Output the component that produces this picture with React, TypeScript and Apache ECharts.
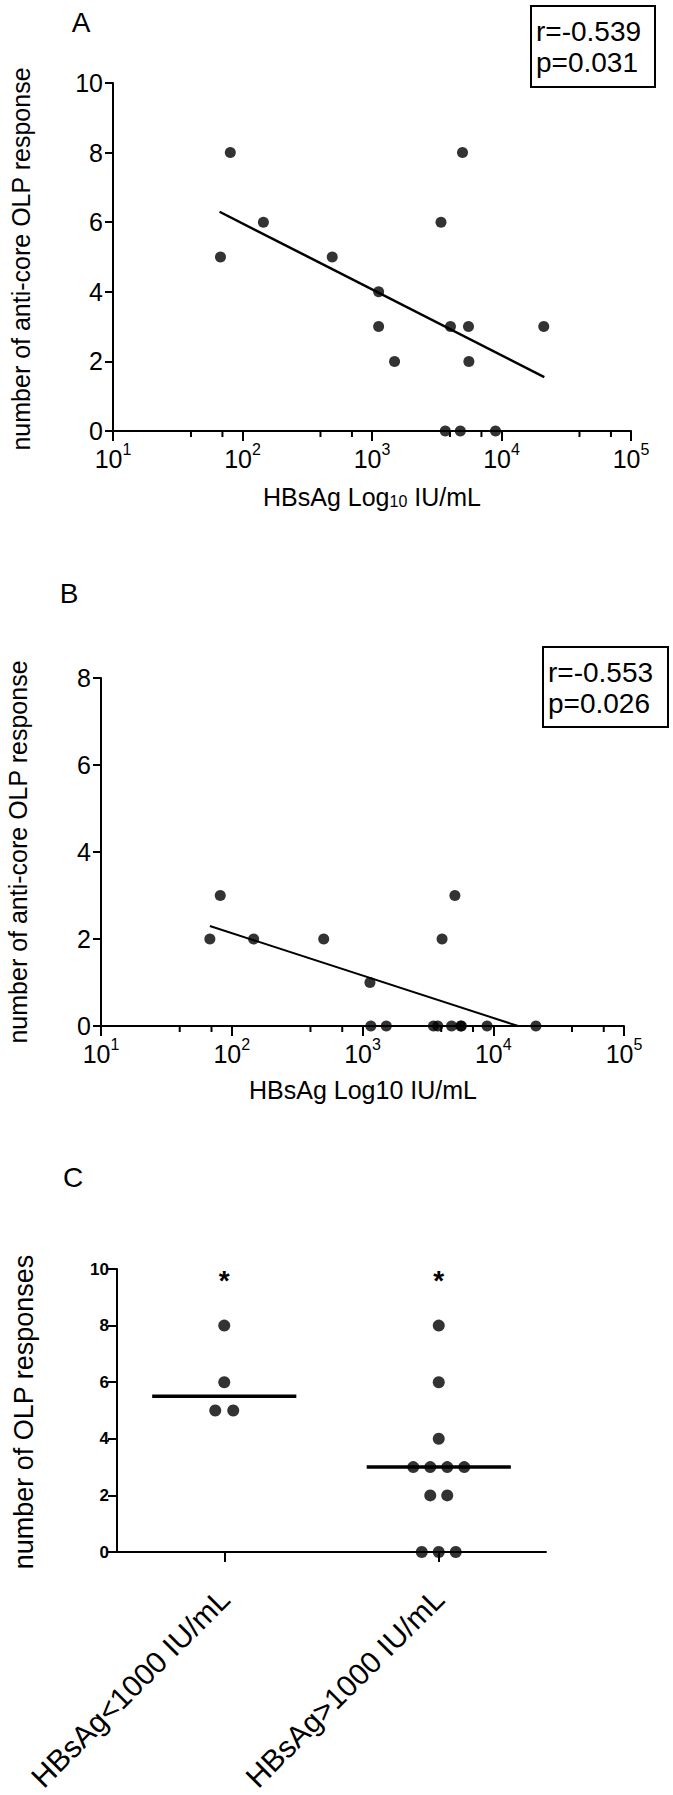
import React, { useEffect, useRef } from 'react';
import * as echarts from 'echarts';

// ---------- Data ----------
const logTickValues = [10, 100, 1000, 10000, 100000];
const minorTickValues = [40, 70, 400, 700, 4000, 7000, 40000, 70000];

// Panel A
const hbsAgA = [67.6, 80.5, 145, 493, 1125, 1125, 1493, 3410, 3680, 4035, 4810, 5000, 5560, 5600, 8990, 21200];
const olpA = [5, 8, 6, 5, 4, 3, 2, 6, 0, 3, 0, 8, 3, 2, 0, 3];
const fitA = [[66.5, 6.3], [21400, 1.55]];
const statsA = ['r=-0.539', 'p=0.031'];

// Panel B
const hbsAgB = [68, 81.7, 147, 505, 1140, 1158, 1520, 3490, 3766, 4060, 4800, 5090, 5650, 5700, 8970, 21200];
const olpB = [2, 3, 2, 2, 1, 0, 0, 0, 0, 2, 0, 3, 0, 0, 0, 0];
const fitB = [[68, 2.3], [15500, 0]];
const statsB = ['r=-0.553', 'p=0.026'];

// Panel C
const groupsC = ['HBsAg<1000 IU/mL', 'HBsAg>1000 IU/mL'];
const olpLow = [8, 6, 5, 5];
const olpHigh = [8, 6, 4, 3, 3, 3, 3, 2, 2, 0, 0, 0];
const mediansC = [5.5, 3];
const significanceC = ['*', '*'];
const significanceLevel = 9.6;

const FONT = '"Liberation Sans", Arial, Helvetica, sans-serif';
const BLACK = '#000';

function beeswarm(groupIndex: number, values: number[], spacing: number) {
  const counts: Record<string, number> = {};
  values.forEach((v) => { counts[v] = (counts[v] || 0) + 1; });
  const seen: Record<string, number> = {};
  return values.map((v) => {
    const n = counts[v];
    const k = seen[v] || 0;
    seen[v] = k + 1;
    return { value: [groupIndex, v], symbolOffset: [(k - (n - 1) / 2) * spacing, 0] };
  });
}

function logAxis(gridIndex: number) {
  return {
    type: 'log',
    logBase: 10,
    gridIndex,
    min: logTickValues[0],
    max: logTickValues[logTickValues.length - 1],
    axisLine: { show: true, lineStyle: { color: BLACK, width: 2 } },
    axisTick: { show: true, length: 10, lineStyle: { color: BLACK, width: 2 } },
    splitLine: { show: false },
    axisLabel: {
      margin: 10,
      formatter: (v: number) => `{b|10}{s|${Math.round(Math.log10(v))}}`,
      rich: {
        b: { fontSize: 25, fontFamily: FONT, color: BLACK, lineHeight: 30, verticalAlign: 'bottom' },
        s: { fontSize: 16, fontFamily: FONT, color: BLACK, verticalAlign: 'top' },
      },
    },
  };
}

function valueAxis(gridIndex: number, max: number, labelStyle: any, tickLen: number) {
  return {
    type: 'value',
    gridIndex,
    min: 0,
    max,
    interval: 2,
    axisLine: { show: true, lineStyle: { color: BLACK, width: 2 } },
    axisTick: { show: true, length: tickLen, lineStyle: { color: BLACK, width: 2 } },
    splitLine: { show: false },
    axisLabel: { color: BLACK, fontFamily: FONT, ...labelStyle },
  };
}

function minorTicks(axisIndex: number) {
  return {
    type: 'custom',
    xAxisIndex: axisIndex,
    yAxisIndex: axisIndex,
    silent: true,
    clip: false,
    data: minorTickValues.map((v) => [v, 0]),
    renderItem: (_p: any, api: any) => {
      const p = api.coord([api.value(0), api.value(1)]);
      return {
        type: 'line',
        shape: { x1: p[0], y1: p[1], x2: p[0], y2: p[1] + 6 },
        style: { stroke: BLACK, lineWidth: 2 },
      };
    },
  };
}

export default function App() {
  const ref = useRef<HTMLDivElement>(null);

  useEffect(() => {
    document.body.style.margin = '0';
    if (!ref.current) return;
    const chart = echarts.init(ref.current, null, { renderer: 'svg' });

    const option: any = {
      animation: false,
      backgroundColor: '#fff',
      grid: [
        { left: 113, top: 83, width: 518, height: 348 },
        { left: 101, top: 678, width: 523, height: 348 },
        { left: 117, top: 1269, width: 429, height: 283 },
      ],
      xAxis: [
        logAxis(0),
        logAxis(1),
        {
          type: 'category',
          gridIndex: 2,
          data: groupsC,
          boundaryGap: true,
          axisLine: { show: true, lineStyle: { color: BLACK, width: 2 } },
          axisTick: { show: true, alignWithLabel: true, length: 10, lineStyle: { color: BLACK, width: 2 } },
          axisLabel: { rotate: 45, margin: 42, fontSize: 30, fontFamily: FONT, color: BLACK, interval: 0 },
        },
      ],
      yAxis: [
        valueAxis(0, 10, { fontSize: 25, margin: 10 }, 8),
        valueAxis(1, 8, { fontSize: 25, margin: 10 }, 8),
        valueAxis(2, 10, { fontSize: 17, fontWeight: 'bold', margin: 8 }, 9),
      ],
      series: [
        minorTicks(0),
        {
          type: 'line',
          xAxisIndex: 0,
          yAxisIndex: 0,
          data: fitA,
          symbol: 'none',
          lineStyle: { color: BLACK, width: 2.5 },
        },
        {
          type: 'scatter',
          xAxisIndex: 0,
          yAxisIndex: 0,
          clip: false,
          symbolSize: 11,
          itemStyle: { color: BLACK },
          data: hbsAgA.map((x, i) => [x, olpA[i]]),
        },
        minorTicks(1),
        {
          type: 'line',
          xAxisIndex: 1,
          yAxisIndex: 1,
          data: fitB,
          symbol: 'none',
          lineStyle: { color: BLACK, width: 2 },
        },
        {
          type: 'scatter',
          xAxisIndex: 1,
          yAxisIndex: 1,
          clip: false,
          symbolSize: 11,
          itemStyle: { color: BLACK },
          data: hbsAgB.map((x, i) => [x, olpB[i]]),
        },
        {
          type: 'scatter',
          xAxisIndex: 2,
          yAxisIndex: 2,
          clip: false,
          symbolSize: 12,
          itemStyle: { color: BLACK },
          data: [...beeswarm(0, olpLow, 18), ...beeswarm(1, olpHigh, 17)],
        },
        {
          type: 'custom',
          xAxisIndex: 2,
          yAxisIndex: 2,
          clip: false,
          data: mediansC.map((m, i) => [i, m]),
          renderItem: (_p: any, api: any) => {
            const p = api.coord([api.value(0), api.value(1)]);
            const half = api.size([1, 0])[0] * 0.336;
            return {
              type: 'line',
              shape: { x1: p[0] - half, y1: p[1], x2: p[0] + half, y2: p[1] },
              style: { stroke: BLACK, lineWidth: 3.5 },
            };
          },
        },
        {
          type: 'custom',
          xAxisIndex: 2,
          yAxisIndex: 2,
          clip: false,
          data: significanceC.map((s, i) => [i, significanceLevel]),
          renderItem: (params: any, api: any) => {
            const p = api.coord([api.value(0), api.value(1)]);
            return {
              type: 'text',
              x: p[0],
              y: p[1],
              style: {
                text: significanceC[params.dataIndex],
                fill: BLACK,
                font: `bold 28px ${FONT}`,
                align: 'center',
                verticalAlign: 'middle',
              },
            };
          },
        },
      ],
      graphic: [
        // Panel letters
        { type: 'text', x: 81, y: 22, style: { text: 'A', font: `28px ${FONT}`, fill: BLACK, align: 'center', verticalAlign: 'middle' } },
        { type: 'text', x: 69, y: 593, style: { text: 'B', font: `28px ${FONT}`, fill: BLACK, align: 'center', verticalAlign: 'middle' } },
        { type: 'text', x: 73, y: 1177, style: { text: 'C', font: `28px ${FONT}`, fill: BLACK, align: 'center', verticalAlign: 'middle' } },
        // Stats box A
        { type: 'rect', shape: { x: 531, y: 6, width: 124, height: 81 }, style: { fill: 'none', stroke: BLACK, lineWidth: 2 } },
        { type: 'text', x: 536, y: 31, style: { text: statsA[0], font: `28px ${FONT}`, fill: BLACK, align: 'left', verticalAlign: 'middle' } },
        { type: 'text', x: 536, y: 62, style: { text: statsA[1], font: `28px ${FONT}`, fill: BLACK, align: 'left', verticalAlign: 'middle' } },
        // Stats box B
        { type: 'rect', shape: { x: 543, y: 647, width: 125, height: 80 }, style: { fill: 'none', stroke: BLACK, lineWidth: 2 } },
        { type: 'text', x: 548, y: 672, style: { text: statsB[0], font: `28px ${FONT}`, fill: BLACK, align: 'left', verticalAlign: 'middle' } },
        { type: 'text', x: 548, y: 703, style: { text: statsB[1], font: `28px ${FONT}`, fill: BLACK, align: 'left', verticalAlign: 'middle' } },
        // Y axis titles
        { type: 'text', x: 21, y: 259, rotation: Math.PI / 2, style: { text: 'number of anti-core OLP response', font: `25px ${FONT}`, fill: BLACK, align: 'center', verticalAlign: 'middle' } },
        { type: 'text', x: 18, y: 852, rotation: Math.PI / 2, style: { text: 'number of anti-core OLP response', font: `25px ${FONT}`, fill: BLACK, align: 'center', verticalAlign: 'middle' } },
        { type: 'text', x: 24, y: 1412, rotation: Math.PI / 2, style: { text: 'number of OLP responses', font: `27px ${FONT}`, fill: BLACK, align: 'center', verticalAlign: 'middle' } },
        // X axis titles
        {
          type: 'text', x: 372, y: 497,
          style: {
            text: 'HBsAg Log{sub|10} IU/mL', font: `25px ${FONT}`, fill: BLACK, align: 'center', verticalAlign: 'middle',
            rich: { sub: { fontSize: 16, fontFamily: FONT, fill: BLACK, verticalAlign: 'bottom', padding: [8, 0, 0, 0] } },
          },
        },
        { type: 'text', x: 363, y: 1090, style: { text: 'HBsAg Log10 IU/mL', font: `25px ${FONT}`, fill: BLACK, align: 'center', verticalAlign: 'middle' } },
      ],
    };

    chart.setOption(option);
    return () => chart.dispose();
  }, []);

  return <div ref={ref} style={{ width: 673, height: 1795 }} />;
}
